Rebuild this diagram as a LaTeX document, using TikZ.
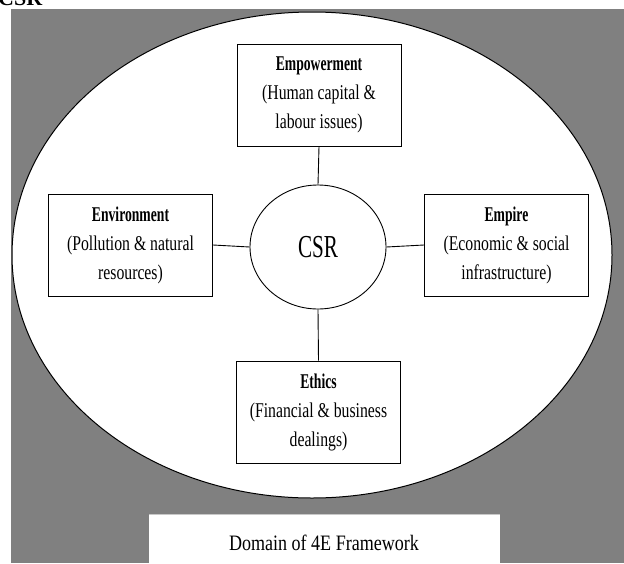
\documentclass[tikz,border=0pt]{standalone}
\usepackage{fontspec}
\setmainfont{Liberation Serif}
\newfontfamily\rgfont[FakeStretch=0.75]{Liberation Serif}
\newfontfamily\bdfont[FakeStretch=0.65]{Liberation Serif}
\newfontfamily\csrfont[FakeStretch=0.66]{Liberation Serif}
\newfontfamily\dmfont[FakeStretch=0.82]{Liberation Serif}
\usetikzlibrary{shapes.geometric}
\definecolor{bggray}{RGB}{128,128,128}
\definecolor{lightline}{RGB}{200,200,200}
\tikzset{
  ebox/.style={draw=black, line width=1pt, fill=white, minimum width=164pt, minimum height=102pt,
    inner sep=0pt, align=center, font=\rgfont\fontsize{21}{29}\selectfont},
  link/.style={draw=black, line width=0.9pt},
}
\newcommand{\btitle}[1]{{\bdfont\bfseries\fontsize{21}{29}\selectfont #1}}
\begin{document}
\begin{tikzpicture}[x=1pt,y=-1pt]
\useasboundingbox (0,0) rectangle (624,563);
\fill[white] (0,0) rectangle (624,563);
\fill[bggray] (11,9) rectangle (624,563);
\node[anchor=base west, inner sep=0pt, font=\bfseries\fontsize{22}{26}\selectfont] (title) at (-2,5) {CSR};
\draw[black, line width=1pt, fill=white] (312,255) ellipse [x radius=300pt, y radius=243pt];
\node[draw=black, line width=0.9pt, ellipse, minimum width=136pt, minimum height=124pt, inner sep=0pt,
  font=\csrfont\fontsize{32}{36}\selectfont] (csr) at (318,247) {CSR};
\node[ebox] (emp) at (319,95) {\btitle{Empowerment}\\(Human capital \&\\labour issues)};
\node[ebox] (env) at (130.5,245) {\btitle{Environment}\\(Pollution \& natural\\resources)};
\node[ebox] (empire) at (506.5,245) {\btitle{Empire}\\(Economic \& social\\infrastructure)};
\node[ebox] (eth) at (318.5,412) {\btitle{Ethics}\\(Financial \& business\\dealings)};
\draw[link] (emp.south) -- (csr.north);
\draw[link] (eth.north) -- (csr.south);
\draw[link] (env.east) -- (csr.west);
\draw[link] (empire.west) -- (csr.east);
\node[fill=white, minimum width=351pt, minimum height=52pt, anchor=north west, inner sep=0pt] (dombox) at (149,514) {};
\draw[lightline, line width=1pt] (dombox.north west) -- (dombox.north east);
\node[anchor=base, inner sep=0pt, font=\dmfont\fontsize{22}{25}\selectfont] (domtxt) at (324,550) {Domain of 4E Framework};
\end{tikzpicture}
\end{document}
